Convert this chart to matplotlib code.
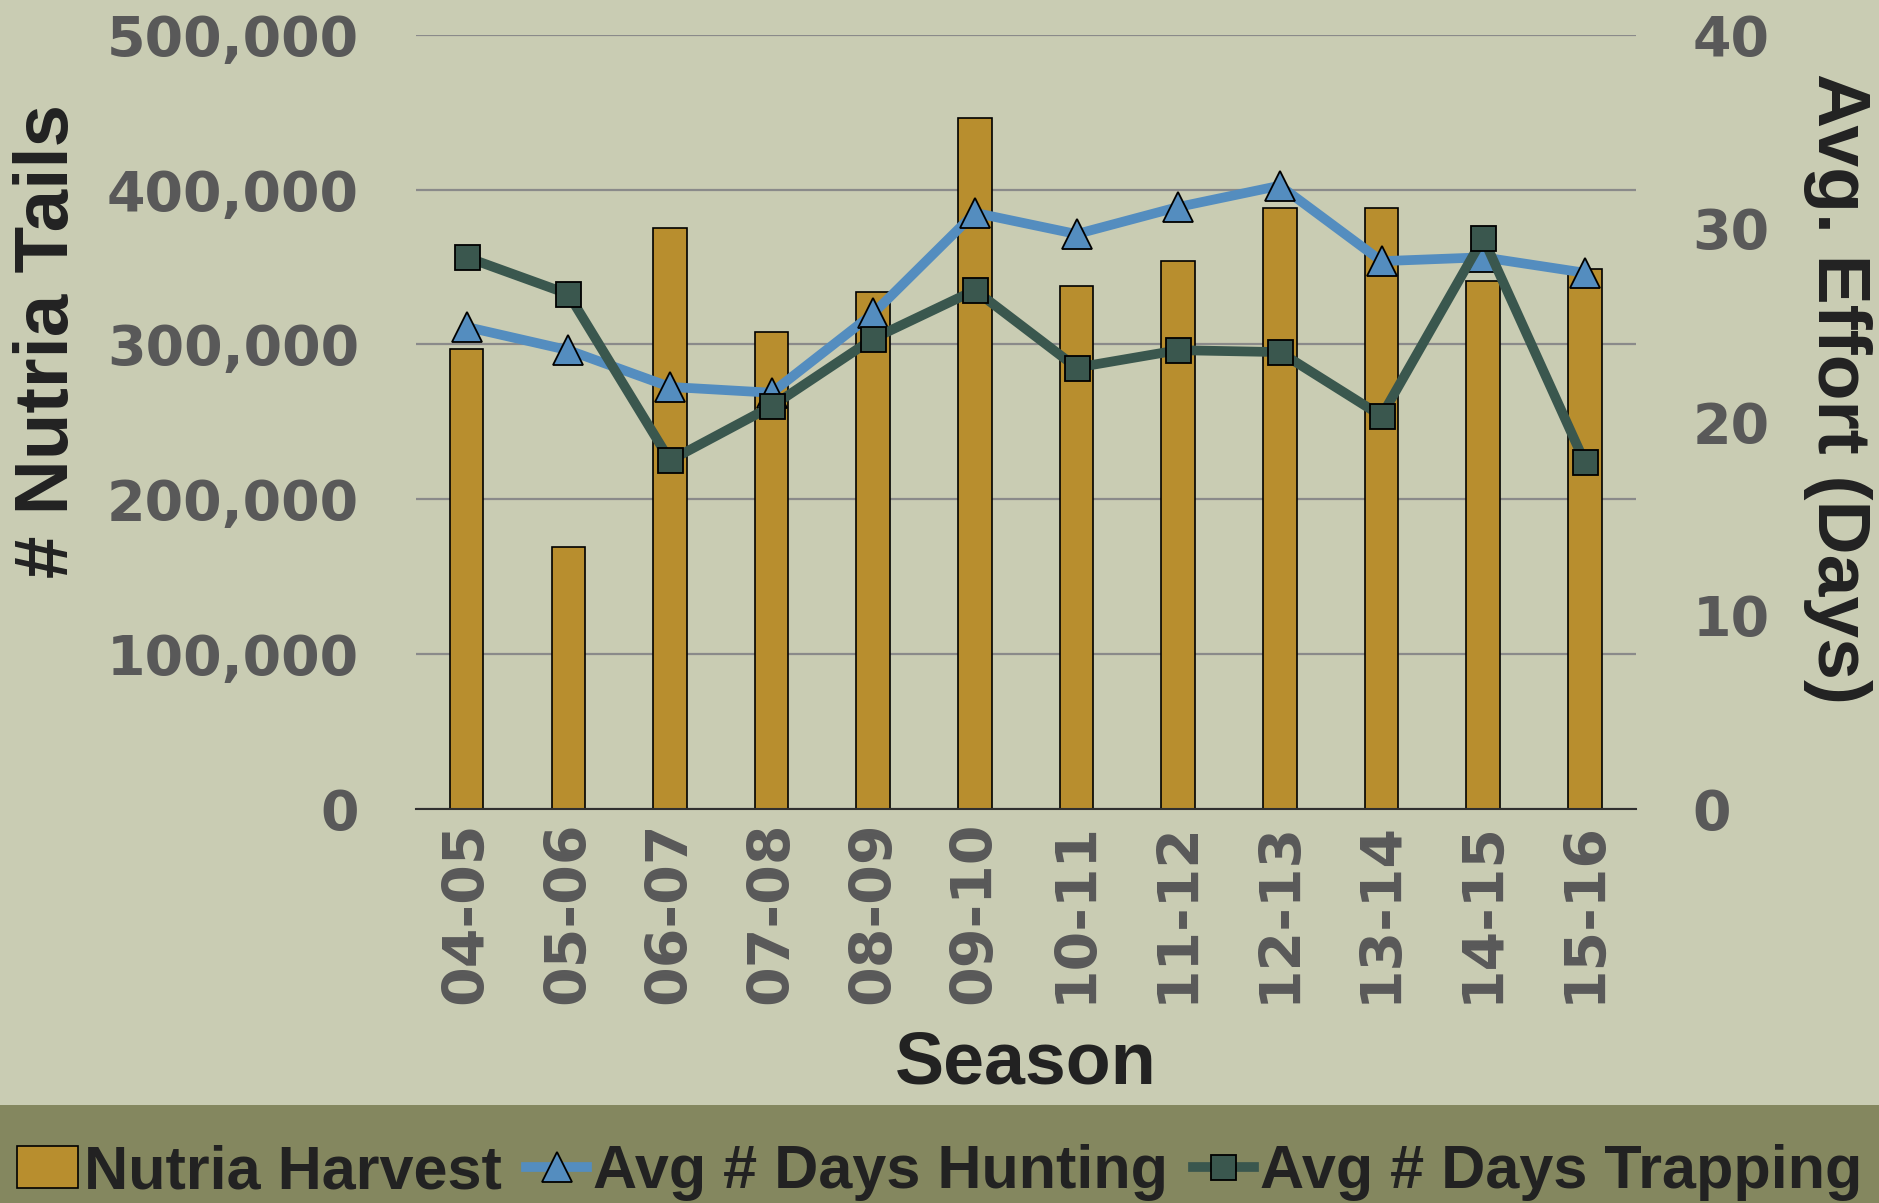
import numpy as np
import matplotlib.pyplot as plt
from matplotlib.patches import Rectangle
from matplotlib.ticker import FuncFormatter

seasons = ['04-05', '05-06', '06-07', '07-08', '08-09', '09-10',
           '10-11', '11-12', '12-13', '13-14', '14-15', '15-16']
harvest = [297000, 169000, 375000, 308000, 334000, 446000,
           338000, 354000, 388000, 388000, 341000, 349000]
days_hunting = [24.9, 23.7, 21.8, 21.5, 25.6, 30.8, 29.7, 31.1, 32.2, 28.3, 28.5, 27.7]
days_trapping = [28.5, 26.6, 18.0, 20.8, 24.3, 26.8, 22.8, 23.7, 23.6, 20.3, 29.5, 17.9]

bg = '#C9CCB3'
band = '#84875F'
gold = '#B88E2E'
blue = '#548DBF'
green = '#3A574E'
tickcol = '#595959'

fig = plt.figure(figsize=(18.79, 12.03), dpi=100, facecolor=bg)
fig.patches.append(Rectangle((0, 0), 1, 0.0815, transform=fig.transFigure,
                             facecolor=band, edgecolor='none', zorder=0))

ax = fig.add_axes([0.2213, 0.3277, 0.6492, 0.6434])
ax.set_facecolor(bg)
x = np.arange(len(seasons))

ax.bar(x, harvest, width=0.33, color=gold, edgecolor='black', linewidth=1.2,
       label='Nutria Harvest', zorder=3)
ax.set_xlim(-0.5, len(seasons) - 0.5)
ax.set_ylim(0, 500000)
ax.set_yticks(np.arange(0, 500001, 100000))
ax.yaxis.set_major_formatter(FuncFormatter(lambda v, p: f'{int(v):,}'))
ax.grid(axis='y', color='#8A8A8A', linewidth=1.6, zorder=0)
ax.set_axisbelow(True)
for s in ['top', 'left', 'right']:
    ax.spines[s].set_visible(False)
ax.spines['bottom'].set_color('#303030')
ax.spines['bottom'].set_linewidth(1.5)
ax.spines['bottom'].set_zorder(4)

ax.set_xticks(x)
ax.set_xticklabels(seasons, rotation=90, fontsize=41, fontweight='bold',
                   color=tickcol, family='DejaVu Sans')
ax.tick_params(axis='x', length=0, pad=9)
ax.tick_params(axis='y', length=0, pad=41, labelsize=40, labelcolor=tickcol)
for t in ax.get_yticklabels():
    t.set_fontweight('bold')

ax2 = ax.twinx()
ax2.set_ylim(0, 40)
ax2.set_yticks([0, 10, 20, 30, 40])
ax2.tick_params(axis='y', length=0, pad=41, labelsize=40, labelcolor=tickcol)
for t in ax2.get_yticklabels():
    t.set_fontweight('bold')
for s in ax2.spines.values():
    s.set_visible(False)

ax2.plot(x, days_hunting, color=blue, linewidth=7, marker='^', markersize=21,
         markerfacecolor=blue, markeredgecolor='black', markeredgewidth=1.3,
         label='Avg # Days Hunting', zorder=3)
ax2.plot(x, days_trapping, color=green, linewidth=7, marker='s', markersize=18,
         markerfacecolor=green, markeredgecolor='black', markeredgewidth=1.3,
         label='Avg # Days Trapping', zorder=4)

ax.set_ylabel('# Nutria Tails', fontsize=55, fontweight='bold', color='#222222',
              family='Liberation Sans')
ax.yaxis.set_label_coords(-0.272, 0.604)
ax2.set_ylabel('Avg. Effort (Days)', fontsize=54, fontweight='bold', color='#222222',
               family='Liberation Sans', rotation=-90)
ax2.yaxis.set_label_coords(1.1935, 0.543)
fig.text(0.546, 0.115, 'Season', fontsize=53, fontweight='bold', color='#222222',
         family='Liberation Sans', ha='center', va='center')

h1, l1 = ax.get_legend_handles_labels()
h2, l2 = ax2.get_legend_handles_labels()
fig.legend(h1 + h2, l1 + l2, loc='center', bbox_to_anchor=(0.5, 0.025), ncol=3,
           frameon=False, handlelength=1.0, handletextpad=0.1, columnspacing=0.4,
           borderpad=0, prop={'family': 'Liberation Sans', 'weight': 'bold', 'size': 44},
           labelcolor='#222222')

fig.savefig('out.png', dpi=100, facecolor=bg)
